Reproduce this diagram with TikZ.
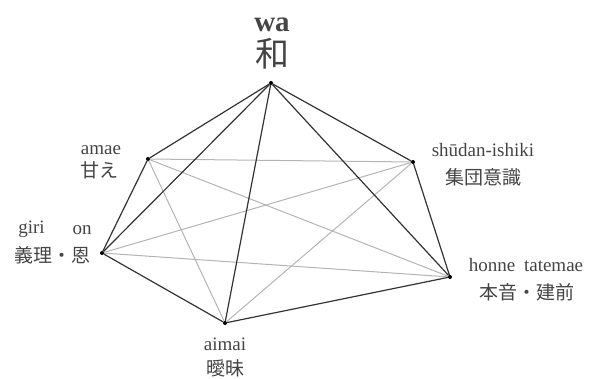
\documentclass[tikz,border=0pt]{standalone}
\usepackage{fontspec}
\setmainfont{Liberation Serif}
\newfontfamily\cjk{Noto Sans CJK JP}
\definecolor{dark}{HTML}{333333}
\definecolor{light}{HTML}{B4B4B4}
\definecolor{txt}{HTML}{444444}
\begin{document}
\begin{tikzpicture}[x=1pt,y=-1pt,
  pt/.style={circle,fill=black,inner sep=0pt,minimum size=4pt},
  strong/.style={draw=dark,line width=1.2pt},
  faint/.style={draw=light,line width=1pt},
  lat/.style={inner sep=0pt,anchor=base,text=txt,font=\fontsize{19}{19}\selectfont},
  jp/.style={inner sep=0pt,anchor=center,text=txt,font=\cjk\fontsize{19}{19}\selectfont}]
\useasboundingbox (0,0) rectangle (589,379);
\node[pt] (wa) at (271,83) {};
\node[pt] (amae) at (148,159) {};
\node[pt] (shudan) at (413,162) {};
\node[pt] (giri) at (102,253) {};
\node[pt] (honne) at (450,277) {};
\node[pt] (aimai) at (225,323) {};
% light lines
\path[faint] (amae) -- (shudan);
\path[faint] (amae) -- (aimai);
\path[faint] (amae) -- (honne);
\path[faint] (giri) -- (shudan);
\path[faint] (giri) -- (honne);
\path[faint] (shudan) -- (aimai);
% dark lines
\path[strong] (wa) -- (amae) -- (giri) -- (aimai) -- (honne) -- (shudan) -- (wa);
\path[strong] (wa) -- (giri);
\path[strong] (wa) -- (aimai);
\path[strong] (wa) -- (honne);
% labels
\node[lat,font=\bfseries\fontsize{29}{29}\selectfont] (lwa) at (272,32) {wa};
\node[jp,font=\cjk\fontsize{34}{34}\selectfont] (jwa) at (272,54) {和};
\node[lat] (lamae) at (101,155) {amae};
\node[jp] (jamae) at (99,170) {甘え};
\node[lat] (lgiri) at (31.5,234) {giri};
\node[lat] (lon) at (82,235) {on};
\node[jp] (jgiri) at (52,255) {義理・恩};
\node[lat] (lshudan) at (483,157) {shūdan-ishiki};
\node[jp] (jshudan) at (483,177) {集団意識};
\node[lat] (lhonne) at (526,272) {honne\hspace{4pt} tatemae};
\node[jp] (jhonne) at (527,292) {本音・建前};
\node[lat] (laimai) at (225,350) {aimai};
\node[jp] (jaimai) at (225,368) {曖昧};
\end{tikzpicture}
\end{document}
